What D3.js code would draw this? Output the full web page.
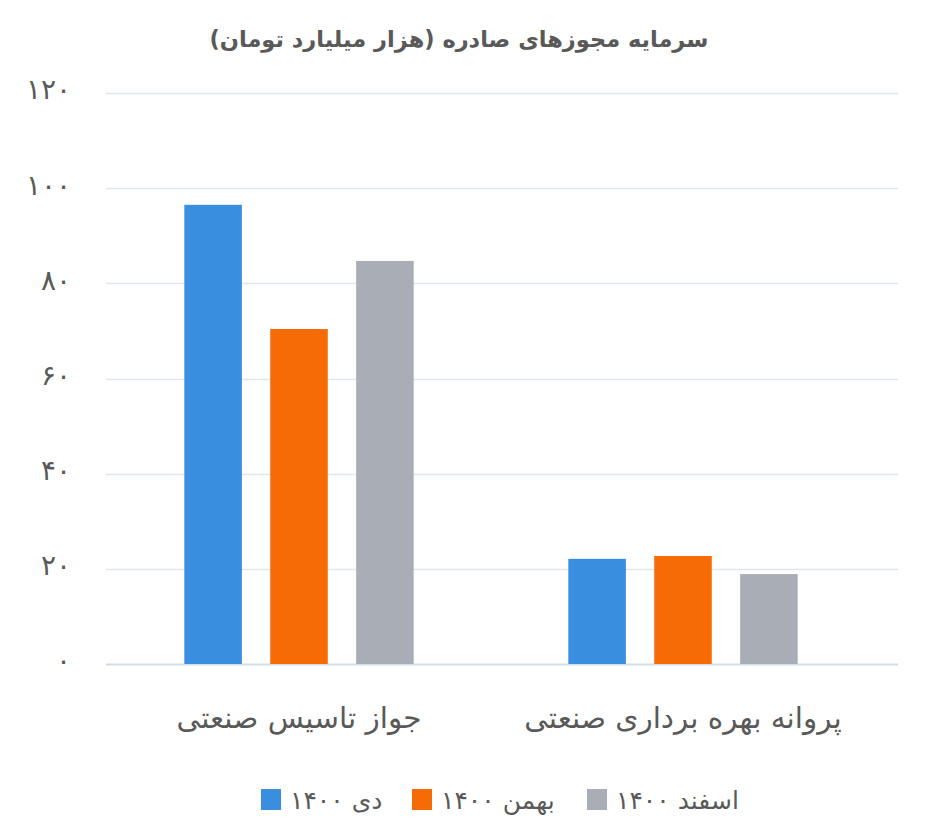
<!DOCTYPE html>
<html>
<head>
<meta charset="utf-8">
<script src="https://cdnjs.cloudflare.com/ajax/libs/d3/7.8.5/d3.min.js"></script>
<style>
  body { margin: 0; background: #fff; }
  svg { display: block; font-family: "DejaVu Sans", sans-serif; }
</style>
</head>
<body>
<div id="chart"></div>
<script>
const title = "سرمایه مجوزهای صادره (هزار میلیارد تومان)"
const categories = ["جواز تاسیس صنعتی", "پروانه بهره برداری صنعتی"]
const seriesNames = ["دی ۱۴۰۰", "بهمن ۱۴۰۰", "اسفند ۱۴۰۰"]
const dey = [96.5, 22.1]
const bahman = [70.4, 22.7]
const esfand = [84.7, 18.9]
const yTicks = [0, 20, 40, 60, 80, 100, 120]
const colors = ["#3a8ee0", "#f76b07", "#a9aeb6"]

const series = [dey, bahman, esfand]
const W = 929, H = 833

const fa = v => String(v).replace(/\d/g, c => "۰۱۲۳۴۵۶۷۸۹"[c])

const svg = d3.select("#chart").append("svg")
  .attr("width", W).attr("height", H)

const gridLeft = 106, gridRight = 898
const y = d3.scaleLinear().domain([0, 120]).range([664, 93])
const x0 = d3.scaleBand().domain(categories).range([107, 875])
const x1 = d3.scaleBand().domain(d3.range(seriesNames.length))
  .range([0, x0.bandwidth()]).paddingInner(0.33).paddingOuter(0.9)

// title
svg.append("text")
  .attr("x", 459).attr("y", 47)
  .attr("text-anchor", "middle")
  .attr("direction", "rtl")
  .attr("font-size", 22.5).attr("font-weight", "bold")
  .attr("fill", "#595959")
  .text(title)

// grid
svg.append("g").selectAll("line")
  .data(yTicks)
  .join("line")
  .attr("x1", gridLeft).attr("x2", gridRight)
  .attr("y1", d => Math.round(y(d)) + 0.5).attr("y2", d => Math.round(y(d)) + 0.5)
  .attr("stroke", d => d === 0 ? "#d6dce6" : "#e1e6ee")
  .attr("stroke-width", d => d === 0 ? 2 : 1.5)

// y axis labels
const yAxis = svg.append("g")
  .attr("transform", "translate(71,-3)")
  .call(d3.axisLeft(y).tickValues(yTicks).tickSize(0).tickPadding(0).tickFormat(fa))
yAxis.select(".domain").remove()
yAxis.selectAll("text")
  .attr("font-size", 28)
  .attr("font-family", "DejaVu Sans, sans-serif")
  .attr("fill", "#595959")

// bars
const groups = svg.append("g").selectAll("g")
  .data(categories)
  .join("g")
  .attr("transform", d => `translate(${x0(d)},0)`)

groups.selectAll("rect")
  .data((d, ci) => series.map((s, si) => ({ si, v: s[ci] })))
  .join("rect")
  .attr("x", d => x1(d.si))
  .attr("width", x1.bandwidth())
  .attr("y", d => y(d.v))
  .attr("height", d => y(0) - y(d.v))
  .attr("fill", d => colors[d.si])

// category labels
svg.append("g").selectAll("text")
  .data(categories)
  .join("text")
  .attr("x", d => x0(d) + x0.bandwidth() / 2)
  .attr("y", 728)
  .attr("text-anchor", "middle")
  .attr("direction", "rtl")
  .attr("font-size", 29.5)
  .attr("fill", "#595959")
  .text(d => d)

// legend
const legendX = [261, 412, 587]
const legend = svg.append("g").selectAll("g")
  .data(seriesNames)
  .join("g")
  .attr("transform", (d, i) => `translate(${legendX[i]},789)`)
legend.append("rect")
  .attr("width", 20).attr("height", 21)
  .attr("fill", (d, i) => colors[i])
legend.append("text")
  .attr("x", 29).attr("y", 20)
  .attr("direction", "rtl")
  .attr("text-anchor", "end")
  .attr("font-size", 25)
  .attr("fill", "#595959")
  .text(d => d)
</script>
</body>
</html>
